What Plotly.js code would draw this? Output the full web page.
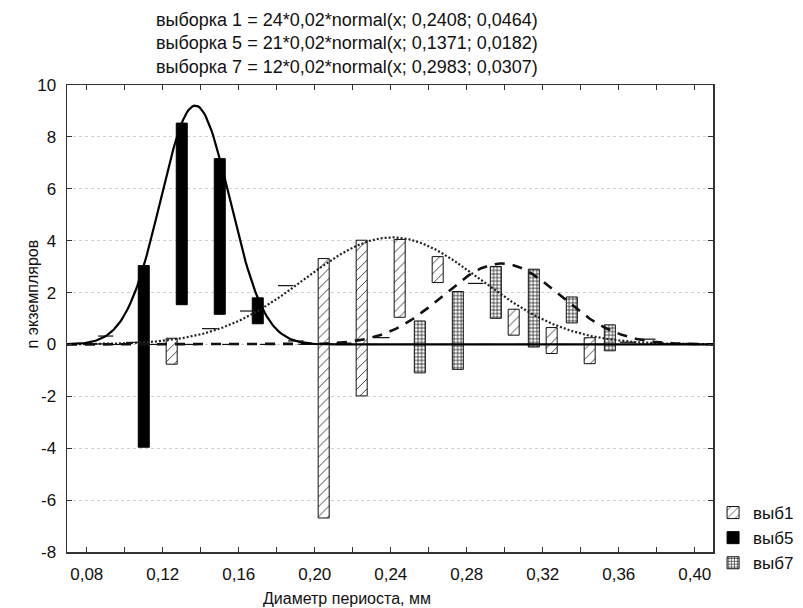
<!DOCTYPE html>
<html>
<head>
<meta charset="utf-8">
<script src="https://cdn.plot.ly/plotly-3.0.1.min.js"></script>
<style>html,body{margin:0;padding:0;background:#fff;}#chart{width:803px;height:608px;}</style>
</head>
<body>
<div id="chart"></div>
<script>
// Bin centres (mm)
const bins = [0.09, 0.11, 0.13, 0.15, 0.17, 0.19, 0.21, 0.23, 0.25, 0.27, 0.29, 0.31, 0.33, 0.35, 0.37, 0.39];
// Observed counts per bin
const counts1 = [0, 0, 1, 0, 0, 0, 10, 6, 3, 1, 0, 1, 1, 1, 0, 0];
const counts5 = [0, 7, 7, 6, 1, 0, 0, 0, 0, 0, 0, 0, 0, 0, 0, 0];
const counts7 = [0, 0, 0, 0, 0, 0, 0, 0, 2, 3, 2, 3, 1, 1, 0, 0];
// Fitted normal curves as stated in the chart title: N, bin width, mean, sd
const fit1 = {n: 24, w: 0.02, mu: 0.2408, sd: 0.0464};
const fit5 = {n: 21, w: 0.02, mu: 0.1371, sd: 0.0182};
const fit7 = {n: 12, w: 0.02, mu: 0.2983, sd: 0.0307};
const seriesNames = ['выб1', 'выб5', 'выб7'];
const titleLines = [
  'выборка 1 = 24*0,02*normal(x; 0,2408; 0,0464)',
  'выборка 5 = 21*0,02*normal(x; 0,1371; 0,0182)',
  'выборка 7 = 12*0,02*normal(x; 0,2983; 0,0307)'
];
const yTickVals = [-8, -6, -4, -2, 0, 2, 4, 6, 8, 10];
const yTickText = ['-8', '-6', '-4', '-2', '0', '2', '4', '6', '8', '10'];

function curve(f, x) {
  const z = (x - f.mu) / f.sd;
  return f.n * f.w * Math.exp(-0.5 * z * z) / (f.sd * Math.sqrt(2 * Math.PI));
}

const XR = [0.0696, 0.4096];
const xs = [];
for (let x = XR[0]; x <= XR[1] + 1e-9; x += 0.001) xs.push(x);

const BW = 0.0058, SHIFT = 0.0053;
const specs = [
  {c: counts1, f: fit1, name: seriesNames[0], ctr: -SHIFT,
   marker: {color: '#fff', line: {color: '#111', width: 1},
            pattern: {shape: '/', size: 7, solidity: 0.12, fgcolor: '#222', bgcolor: '#fff', fillmode: 'replace'}}},
  {c: counts5, f: fit5, name: seriesNames[1], ctr: 0,
   marker: {color: '#000', line: {color: '#000', width: 1}}},
  {c: counts7, f: fit7, name: seriesNames[2], ctr: SHIFT,
   marker: {color: '#fff', line: {color: '#111', width: 1},
            pattern: {shape: '+', size: 3.6, solidity: 0.35, fgcolor: '#111', bgcolor: '#fff', fillmode: 'replace'}}}
];

const traces = [];
specs.forEach(s => {
  const bx = [], by = [], bb = [];
  const zx = [], zy = [];
  bins.forEach((b, i) => {
    const e = curve(s.f, b);
    if (s.c[i] > 0) { bx.push(b); by.push(s.c[i]); bb.push(e - s.c[i]); }
    else { zx.push(b + s.ctr); zy.push(e); }
  });
  traces.push({type: 'bar', x: bx, y: by, base: bb, name: s.name,
    width: BW, offset: s.ctr - BW / 2, marker: s.marker, showlegend: true, hoverinfo: 'skip'});
  traces.push({type: 'scatter', mode: 'markers', x: zx, y: zy, showlegend: false, hoverinfo: 'skip',
    marker: {symbol: 'line-ew', size: 11, color: '#111', line: {color: '#111', width: 1.2}}});
});

traces.push({type: 'scatter', mode: 'lines', x: xs, y: xs.map(x => curve(fit1, x)), showlegend: false,
  line: {color: '#222', width: 2.2, dash: '2px,2px'}, hoverinfo: 'skip'});
traces.push({type: 'scatter', mode: 'lines', x: xs, y: xs.map(x => curve(fit7, x)), showlegend: false,
  line: {color: '#111', width: 2.6, dash: '10px,8px'}, hoverinfo: 'skip'});
traces.push({type: 'scatter', mode: 'lines', x: xs, y: xs.map(x => curve(fit5, x)), showlegend: false,
  line: {color: '#000', width: 2.2}, hoverinfo: 'skip'});

const font = 'Liberation Sans, Arial, sans-serif';
const layout = {
  width: 803, height: 608,
  margin: {l: 67, r: 90, t: 85, b: 56},
  paper_bgcolor: '#fff', plot_bgcolor: '#fff',
  separators: ', ',
  font: {family: font, size: 17, color: '#111'},
  barmode: 'overlay',
  xaxis: {range: XR, tick0: 0.08, dtick: 0.04, tickformat: '.2f', ticks: 'inside', ticklen: 5,
          tickcolor: '#333', tickwidth: 1.2, showline: true, mirror: 'ticks', linecolor: '#333', linewidth: 1.5,
          showgrid: false, zeroline: false, ticklabelstandoff: 6,
          minor: {dtick: 0.02, tick0: 0.08, ticks: 'inside', ticklen: 5, tickcolor: '#333', tickwidth: 1.2, showgrid: false},
          tickfont: {size: 17}},
  yaxis: {range: [-8, 10], tickmode: 'array', tickvals: yTickVals, ticktext: yTickText,
          ticks: 'inside', ticklen: 5, tickcolor: '#333', tickwidth: 1.2,
          showline: true, mirror: 'ticks', linecolor: '#333', linewidth: 1.5,
          showgrid: true, gridcolor: '#cfcfcf', griddash: 'dot', gridwidth: 1, zeroline: false,
          ticklabelstandoff: 6, tickfont: {size: 17}},
  legend: {x: 0.888, xref: 'container', xanchor: 'left', y: 0.0444, yref: 'container', yanchor: 'bottom',
           font: {size: 17}, bgcolor: 'rgba(0,0,0,0)', tracegroupgap: 0, itemwidth: 30},
  annotations: [
    {text: titleLines.join('<br>'), xref: 'paper', yref: 'paper', x: 0.433, y: 1.0899,
     xanchor: 'center', yanchor: 'middle', showarrow: false, font: {size: 18}},
    {text: 'Диаметр периоста, мм', xref: 'paper', yref: 'paper', x: 0.433, y: -0.1, xanchor: 'center',
     yanchor: 'middle', showarrow: false, font: {size: 16}},
    {text: 'n экземпляров', xref: 'paper', yref: 'paper', x: -0.053, y: 0.553, textangle: -90,
     xanchor: 'center', yanchor: 'middle', showarrow: false, font: {size: 16}}
  ]
};

Plotly.newPlot('chart', traces, layout, {displayModeBar: false, staticPlot: true});
</script>
</body>
</html>
